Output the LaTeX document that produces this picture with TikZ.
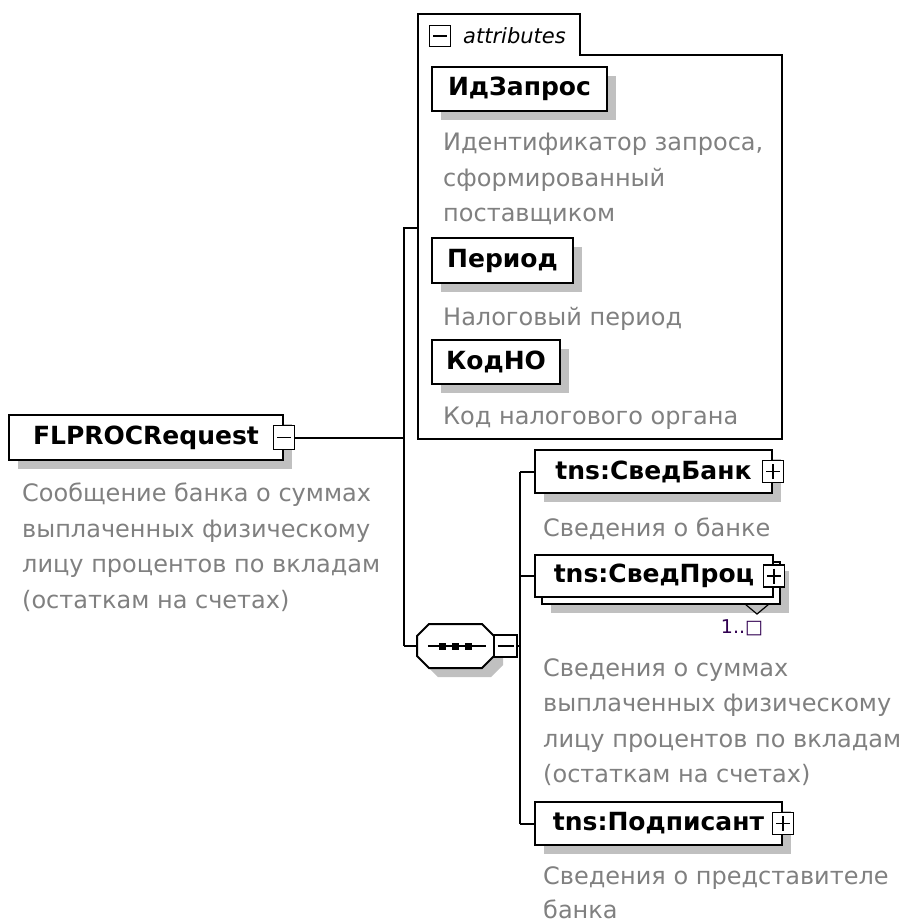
\documentclass[tikz,border=0pt]{standalone}
\usepackage{fontspec}
\setmainfont{DejaVu Sans}
\usetikzlibrary{shadows}

\definecolor{desc}{RGB}{128,128,128}
\definecolor{shade}{RGB}{192,192,192}
\definecolor{occurs}{RGB}{48,0,80}

\tikzset{
  boxshadow/.style={drop shadow={shadow xshift=9pt, shadow yshift=-9pt, fill=shade, opacity=1}},
  elem/.style={draw, line width=2pt, fill=white, inner sep=0pt,
    font=\fontsize{25}{30}\selectfont\bfseries, boxshadow},
  flat/.style={draw, line width=2pt, fill=white, inner sep=0pt,
    font=\fontsize{25}{30}\selectfont\bfseries},
  pmbox/.style={draw, line width=1.8pt, fill=white, inner sep=0pt,
    minimum width=21pt, minimum height=22pt},
  minus/.style={pmbox, path picture={
    \draw[line width=1.6pt] ([xshift=3.5pt]path picture bounding box.west)
      -- ([xshift=-3.5pt]path picture bounding box.east);}},
  plus/.style={pmbox, path picture={
    \draw[line width=1.6pt] ([xshift=3.5pt]path picture bounding box.west)
      -- ([xshift=-3.5pt]path picture bounding box.east);
    \draw[line width=1.6pt] ([yshift=-3.5pt]path picture bounding box.north)
      -- ([yshift=3.5pt]path picture bounding box.south);}},
  descr/.style={anchor=north west, inner sep=0pt, align=left, text=desc,
    font=\fontsize{24}{35.5}\selectfont},
  link/.style={line width=2pt}
}

\begin{document}
\begin{tikzpicture}[x=1pt, y=-1pt]
  \useasboundingbox (0,0) rectangle (910,923);

  % attributes panel
  \draw[line width=2pt, fill=white] (418,439) -- (418,14) -- (580,14) -- (580,55)
    -- (782,55) -- (782,439) -- cycle;
  \node[minus, minimum width=21pt, minimum height=21pt] (AttrPM) at (440,36) {};
  \node[anchor=west, inner sep=0pt, font=\fontsize{21}{25}\selectfont\itshape]
    (AttrLbl) at (463,36) {attributes};

  \node[elem, minimum width=175pt, minimum height=44pt] (IdReq) at (519.5,89) {ИдЗапрос};
  \node[descr] (IdReqDesc) at (443,133) {Идентификатор запроса,\\сформированный\\поставщиком};
  \node[elem, minimum width=141pt, minimum height=45pt] (Period) at (502.5,260.5) {Период};
  \node[descr] (PeriodDesc) at (443,307) {Налоговый период};
  \node[elem, minimum width=128pt, minimum height=44pt] (KodNO) at (496,362) {КодНО};
  \node[descr] (KodNODesc) at (443,407) {Код налогового органа};

  % root element
  \coordinate (BusTop) at (404,228);
  \coordinate (BusMid) at (404,437.5);
  \coordinate (BusBot) at (404,646);
  \coordinate (AttrIn) at (418,228);
  \draw[link] (AttrIn) -- (BusTop) -- (BusBot);
  \node[elem, minimum width=274pt, minimum height=45pt] (Root) at (146,437.5) {FLPROCRequest};
  \node[minus, minimum height=24pt] (RootPM) at (Root.east) {};
  \draw[link] (RootPM.east) -- (BusMid);
  \node[descr] (RootDesc) at (22,483) {Сообщение банка о суммах\\выплаченных физическому\\лицу процентов по вкладам\\(остаткам на счетах)};

  % sequence
  \node[minimum width=77pt, minimum height=44pt, inner sep=0pt] (Seq) at (455.5,646) {};
  \begin{scope}[shift={(455.5,646)}]
    \draw[link, fill=white, boxshadow] (-26.5,-22) -- (26.5,-22) -- (38.5,-10) -- (38.5,10)
      -- (26.5,22) -- (-26.5,22) -- (-38.5,10) -- (-38.5,-10) -- cycle;
  \end{scope}
  \draw[link] (BusBot) -- (Seq.west);
  \draw[link] ([xshift=11pt]Seq.west) -- ([xshift=-8pt]Seq.east);
  \foreach \dx in {-13,0,13}
    \fill ([shift={(\dx-3.5,-3.5)}]Seq.center) rectangle +(7,7);
  \node[minus, minimum width=23pt, minimum height=22pt] (SeqPM) at (505.5,646) {};

  \coordinate (ChTop) at (520,471.5);
  \coordinate (ChMid) at (520,646);
  \coordinate (ChBot) at (520,823.5);
  \draw[link] (SeqPM.east) -- (ChMid);
  \draw[link] (ChTop) -- (ChBot);

  % children
  \node[elem, minimum width=237pt, minimum height=43pt] (Bank) at (653.5,471.5) {tns:СведБанк};
  \node[plus] (BankPM) at (Bank.east) {};
  \draw[link] (ChTop) -- (Bank.west);
  \node[descr] (BankDesc) at (543,518) {Сведения о банке};

  \node[elem, minimum width=238pt, minimum height=42pt] (ProcBack) at (661,583) {};
  \node[flat, minimum width=238pt, minimum height=42pt] (Proc) at (654,576) {tns:СведПроц};
  \node[plus] (ProcPM) at (Proc.east) {};
  \draw[link] (Proc.west -| ChTop) -- (Proc.west);
  \draw[line width=1.2pt] (745,604) -- (757,614) -- (769,604);
  \node[inner sep=0pt, text=occurs, font=\fontsize{19}{22}\selectfont] (ProcOcc) at (742,628) {1..□};
  \node[descr] (ProcDesc) at (543,658) {Сведения о суммах\\выплаченных физическому\\лицу процентов по вкладам\\(остаткам на счетах)};

  \node[elem, minimum width=247pt, minimum height=43pt] (Sign) at (658.5,823.5) {tns:Подписант};
  \node[plus] (SignPM) at (Sign.east) {};
  \draw[link] (ChBot) -- (Sign.west);
  \node[descr, font=\fontsize{24}{34}\selectfont] (SignDesc) at (543,866) {Сведения о представителе\\банка};
\end{tikzpicture}
\end{document}
